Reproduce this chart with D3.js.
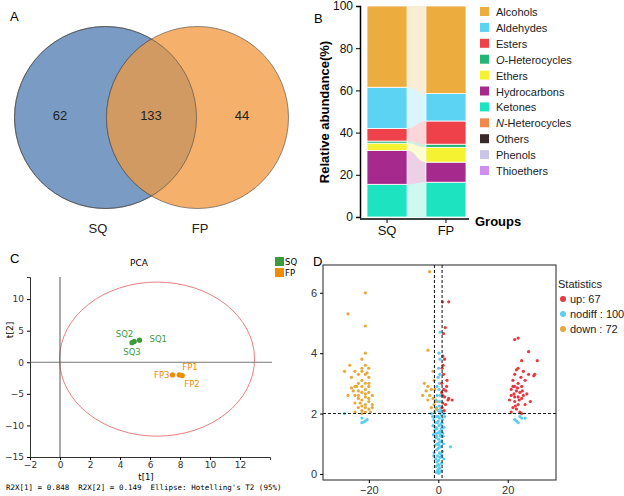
<!DOCTYPE html>
<html><head><meta charset="utf-8">
<script src="https://cdn.jsdelivr.net/npm/d3@7/dist/d3.min.js"></script>
<style>body{margin:0;background:#fff}svg{font-family:Arial,"Liberation Sans",sans-serif}</style>
</head><body><svg id="c" width="624" height="496"></svg>
<script>
// ---- Panel A data
const vennLabels = ["SQ","FP"];
const vennCounts = [62,133,44];
// ---- Panel B data
const classes = ["Alcohols","Aldehydes","Esters","O-Heterocycles","Ethers","Hydrocarbons","Ketones","N-Heterocycles","Others","Phenols","Thioethers"];
const classColors = ["#ecac3e","#5dd3f3","#ef4149","#23b574","#f5f232","#a6298e","#1de3c0","#f08a4b","#3a2a2a","#c9c4e8","#cf8ef0"];
const groups = ["SQ","FP"];
const sqValues = [38.5,19.5,6,1,3.5,16,15.5,0,0,0,0];
const fpValues = [41.5,13,11,1.5,7,9.5,16.5,0,0,0,0];
const stackOrder = ["Ketones","Hydrocarbons","Ethers","O-Heterocycles","Esters","Aldehydes","Alcohols","N-Heterocycles","Others","Phenols","Thioethers"];
const bTicks = [0,20,40,60,80,100];
// ---- Panel C data
const pcaNames = ["SQ1","SQ2","SQ3","FP1","FP2","FP3"];
const pcaT1 = [5.3,4.95,4.8,7.95,8.15,7.5];
const pcaT2 = [3.5,3.3,3.1,-2.0,-2.1,-2.0];
const pcaXTicks = [-2,0,2,4,6,8,10,12];
const pcaYTicks = [-15,-10,-5,0,5,10];
// ---- Panel D data
const upPts = [[1.2,5.7],[3,5.7],[2,4.85],[1.5,4.65],[1.3,3.9],[1.8,3.8],[1.1,3.5],[1.5,3.3],[2.5,3.1],[1,3.0],[1.6,2.8],[2.2,2.75],[1.2,2.6],[1.8,2.55],[3,2.5],[4,2.45],[1.3,2.35],[2.1,2.3],[1.1,2.2],[1.7,2.1],[2.8,2.45],[1.4,3.6],[2.4,2.9],[1.0,2.7],
[22,4.45],[23,4.5],[26,4.05],[28.5,3.75],[24,3.75],[23,3.5],[22.5,3.45],[24.5,3.4],[26,3.3],[27.5,3.25],[21.5,3.1],[23,3.0],[22,2.9],[24,2.9],[21,2.8],[22.5,2.75],[23.5,2.7],[25.5,2.65],[21,2.6],[22,2.55],[23,2.55],[24,2.5],[20.5,2.45],[22,2.4],[26.5,2.4],[23,2.3],[21.5,2.2],[22.5,2.15],[23.5,2.05],[21,2.05],[24,2.0],[22,3.3],[25,3.1],[21.5,2.9],[24.5,2.6],[22.8,2.85],[23.8,3.2],[21.8,2.65],[25,2.3],[22.2,2.25],[23.3,2.45],[24.2,2.75],[27.8,3.3]];
const nodiffPts = [[-27,2.0],[-22,1.85],[-21,1.75],[-22,1.7],[-21.5,1.72],[-20.5,1.8],[22,1.8],[24,1.85],[23,1.7],[22.5,1.75],[25,1.85],[23.5,1.9],
[0.5,4.7],[0.2,4.0],[0.4,3.3],[0.3,3.0],[0.2,2.8],[-0.3,2.6],[0.5,2.4],[-0.5,2.2],[0,2.1],[-2,2.0],[1.5,2.0],[-1,2.05],[0.8,1.95],[-0.6,1.9],[0.3,1.85],[-1.3,1.8],[1.2,1.8],[0,1.75],[-0.8,1.7],[0.7,1.65],[-1.5,1.6],[0.2,1.6],[1.6,1.55],[-0.4,1.5],[0.9,1.5],[-1,1.45],[0.4,1.4],[-0.2,1.35],[1.3,1.35],[-1.4,1.3],[0.6,1.25],[-0.6,1.2],[0.1,1.15],[1.0,1.1],[-1.1,1.1],[0.4,1.05],[-0.3,1.0],[1.5,1.0],[3.5,0.9],[-0.9,0.95],[0.7,0.9],[0,0.85],[-0.5,0.8],[1.2,0.75],[0.3,0.7],[-1.2,0.7],[0.8,0.65],[-0.2,0.6],[0.5,0.55],[-0.7,0.5],[1.6,0.5],[0.1,0.45],[-0.4,0.4],[0.9,0.35],[0.2,0.3],[-0.6,0.25],[0.4,0.2],[0,0.15],[-0.2,0.1],[0.3,0.05],[0.1,0.02],[-0.1,0.3],[0.6,1.3],[-0.8,1.55],[1.1,1.7],[-0.1,1.9],[0.3,2.25],[-0.2,2.4],[0.6,2.6],[0.1,3.5],[0.5,3.8],[-0.5,1.25],[1.4,1.25],[-1.3,0.6],[0.9,0.1],[-0.3,1.7],[0.8,1.4],[-0.9,1.35],[0.2,0.95],[1.0,0.6],[-0.5,0.05],[0.4,2.05],[-1.6,1.9],[1.8,1.9],[0.7,2.15],[-0.7,2.45],[0,3.2],[-0.4,2.9]];
const downPts = [[-26,5.3],[-21,6],[-21,4.9],[-21,4],[-27,3.4],[-25.5,3.6],[-22,3.8],[-21,3.6],[-20,3.5],[-22,3.4],[-23,3.3],[-24,3.4],[-21,3.3],[-20,3.2],[-22,3.1],[-21,3.0],[-23,3.0],[-24,2.9],[-25,2.85],[-22,2.9],[-20,2.9],[-21,2.8],[-23,2.75],[-22,2.7],[-20,2.7],[-19,2.6],[-24,2.6],[-26,2.6],[-21,2.55],[-23,2.5],[-22,2.45],[-20,2.4],[-24,2.35],[-21,2.3],[-22,2.25],[-19,2.2],[-23,2.2],[-20,2.15],[-22,2.1],[-21,2.05],[-23,2.6],[-22,3.5],[-20,3.0],[-25,3.2],[-21,2.2],[-19,2.3],[-22,2.0],[-24,2.05],[-20,2.5],[-21,2.65],[-23.5,2.9],[-20.5,3.35],[-22.5,2.35],[-24.5,2.75],[-19.5,2.05],
[-2.5,6.7],[-3,4.1],[-1.5,3.4],[-1.2,3.1],[-4,3.0],[-3,2.9],[-2,2.8],[-1,2.8],[-4.5,2.6],[-2.5,2.6],[-1.5,2.5],[-3,2.45],[-0.8,2.4],[-1.2,2.3],[-2,2.2],[-0.6,2.15],[-3.5,2.75]];
const dXTicks = [-20,0,20];
const dYTicks = [0,2,4,6];

const svg = d3.select("#c");
const panelLab = (x,y,t)=>svg.append("text").attr("x",x).attr("y",y).attr("font-size",13).text(t);

// ===== A
panelLab(10,21,"A");
const ga = svg.append("g");
const vx = d3.scaleOrdinal().domain(vennLabels).range([105.5,197.5]);
const vcy = 117.5, vr = 91;
ga.append("circle").attr("cx",vx("SQ")).attr("cy",vcy).attr("r",vr).attr("fill","#7a9cc4").attr("stroke","#444").attr("stroke-width",0.6);
ga.append("circle").attr("cx",vx("FP")).attr("cy",vcy).attr("r",vr).attr("fill","#f5b06b").attr("stroke","#444").attr("stroke-width",0.6);
ga.append("clipPath").attr("id","clA").append("circle").attr("cx",vx("SQ")).attr("cy",vcy).attr("r",vr);
ga.append("circle").attr("cx",vx("FP")).attr("cy",vcy).attr("r",vr).attr("clip-path","url(#clA)").attr("fill","#d09a62").attr("stroke","#444").attr("stroke-width",0.6);
ga.append("circle").attr("cx",vx("SQ")).attr("cy",vcy).attr("r",vr).attr("fill","none").attr("stroke","#444").attr("stroke-width",0.6);
[[60,vennCounts[0]],[151,vennCounts[1]],[242,vennCounts[2]]].forEach(([x,t])=>ga.append("text").attr("x",x).attr("y",120).attr("text-anchor","middle").attr("font-size",13).attr("fill","#222").text(t));
vennLabels.forEach((l,i)=>ga.append("text").attr("x",[98,200][i]).attr("y",233).attr("text-anchor","middle").attr("font-size",13).attr("fill","#222").text(l));

// ===== B
panelLab(314,23,"B");
const gb = svg.append("g");
const by = d3.scaleLinear().domain([0,100]).range([217,6]);
const bx = d3.scaleBand().domain(groups).range([367,466]).paddingInner(0.32);
const stackData = groups.map((g,gi)=>{const vals = gi?fpValues:sqValues; const o={}; classes.forEach((c,i)=>o[c]=vals[i]); return o;});
const series = d3.stack().keys(stackOrder)(stackData);
const col = c=>classColors[classes.indexOf(c)];
series.forEach(s=>{
  const a=s[0], b=s[1];
  const x0=bx("SQ")+bx.bandwidth(), x1=bx("FP");
  if(a[1]-a[0]>0||b[1]-b[0]>0){
    const xm=(x0+x1)/2;
    gb.append("path").attr("d",`M${x0},${by(a[1])} C${xm},${by(a[1])} ${xm},${by(b[1])} ${x1},${by(b[1])} L${x1},${by(b[0])} C${xm},${by(b[0])} ${xm},${by(a[0])} ${x0},${by(a[0])}Z`).attr("fill",col(s.key)).attr("opacity",0.22);
  }
  s.forEach((d,i)=>{ if(d[1]-d[0]<=0) return;
    gb.append("rect").attr("x",bx(groups[i])).attr("width",bx.bandwidth()).attr("y",by(d[1])).attr("height",by(d[0])-by(d[1])).attr("fill",col(s.key)).attr("stroke","#fff").attr("stroke-width",0.8);
  });
});
const byAx = gb.append("g").attr("transform","translate(360,0)").call(d3.axisLeft(by).tickValues(bTicks).tickSize(4));
const bxAx = gb.append("g").attr("transform","translate(0,219)").call(d3.axisBottom(bx).tickSize(4));
bxAx.select(".domain").attr("d","M360,0H469");
[byAx,bxAx].forEach(a=>{a.selectAll("text").attr("font-size",12).attr("fill","#111");a.select(".domain").attr("stroke-width",1.5);});
bxAx.selectAll("text").attr("font-size",13);
gb.append("text").attr("x",475).attr("y",226).attr("font-weight","bold").attr("font-size",13).text("Groups");
gb.append("text").attr("transform","translate(329,112) rotate(-90)").attr("text-anchor","middle").attr("font-weight","bold").attr("font-size",13).text("Relative abundance(%)");
classes.forEach((c,i)=>{
  const y=12+i*15.9;
  gb.append("rect").attr("x",480).attr("y",y-5).attr("width",9).attr("height",9).attr("fill",classColors[i]);
  const t=gb.append("text").attr("x",496).attr("y",y+4).attr("font-size",11).attr("fill","#222");
  if(c.includes("-Het")){t.append("tspan").attr("font-style","italic").text(c[0]);t.append("tspan").text(c.slice(1));} else t.text(c);
});

// ===== C
panelLab(10,263,"C");
const gc = svg.append("g");
const cx = d3.scaleLinear().domain([-2,14]).range([30,270]);
const cy = d3.scaleLinear().domain([-15,13.5]).range([457,277]);
gc.append("ellipse").attr("cx",cx(6.47)).attr("cy",cy(0.5)).attr("rx",cx(6.5)-cx(0)).attr("ry",cy(-11.7)-cy(0.5)).attr("fill","none").attr("stroke","#e06060").attr("stroke-width",0.8);
gc.append("line").attr("x1",cx(-2)).attr("x2",272).attr("y1",cy(0)).attr("y2",cy(0)).attr("stroke","#777");
gc.append("line").attr("x1",cx(0)).attr("x2",cx(0)).attr("y1",cy(13.5)).attr("y2",cy(-15)).attr("stroke","#555");
const cxa = gc.append("g").attr("transform",`translate(0,${cy(-15)})`).call(d3.axisBottom(cx).tickValues(pcaXTicks).tickSize(3));
const cya = gc.append("g").attr("transform",`translate(${cx(-2)},0)`).call(d3.axisLeft(cy).tickValues(pcaYTicks).tickSize(3));
[cxa,cya].forEach(a=>{a.selectAll("text").attr("font-size",9).attr("fill","#333").attr("font-family","'DejaVu Sans',sans-serif");a.select(".domain").attr("stroke","#333");});
cxa.selectAll("text").attr("dy","0.6em");
gc.append("text").attr("x",146).attr("y",480).attr("text-anchor","middle").attr("font-size",8.5).attr("font-family","'DejaVu Sans'").text("t[1]");
gc.append("text").attr("transform","translate(13,330) rotate(-90)").attr("text-anchor","middle").attr("font-size",9).attr("font-family","'DejaVu Sans'").text("t[2]");
gc.append("text").attr("x",139,).attr("y",266).attr("text-anchor","middle").attr("font-size",9).attr("font-family","'DejaVu Sans'").text("PCA");
gc.append("text").attr("x",6).attr("y",490).attr("font-size",7.5).attr("font-family","'DejaVu Sans Mono',monospace").attr("xml:space","preserve").text("R2X[1] = 0.848  R2X[2] = 0.149  Ellipse: Hotelling's T2 (95%)");
const pcaOff = {SQ1:[10,2,"start"],SQ2:[-1,-4,"end"],SQ3:[0,12,"middle"],FP1:[3,-5,"start"],FP2:[2,11,"start"],FP3:[-3,3,"end"]};
pcaNames.forEach((n,i)=>{
  const c = n.startsWith("SQ")?"#3d9a3d":"#f08c00";
  gc.append("circle").attr("cx",cx(pcaT1[i])).attr("cy",cy(pcaT2[i])).attr("r",2.6).attr("fill",c);
  const o=pcaOff[n];
  gc.append("text").attr("x",cx(pcaT1[i])+o[0]).attr("y",cy(pcaT2[i])+o[1]).attr("text-anchor",o[2]).attr("font-size",8.5).attr("fill",c).attr("font-family","'DejaVu Sans'").text(n);
});
[["SQ","#3d9a3d"],["FP","#f08c00"]].forEach(([t,c],i)=>{
  gc.append("rect").attr("x",275).attr("y",257+i*11).attr("width",9).attr("height",9).attr("fill",c);
  gc.append("text").attr("x",285).attr("y",265+i*11).attr("font-size",8.5).attr("font-family","'DejaVu Sans'").text(t);
});

// ===== D
panelLab(313,266,"D");
const gd = svg.append("g");
const dx = d3.scaleLinear().domain([-33.2,33.9]).range([323,556]);
const dy = d3.scaleLinear().domain([-0.2,6.92]).range([480,265]);
gd.append("rect").attr("x",323).attr("y",265).attr("width",233).attr("height",215).attr("fill","none").attr("stroke","#222").attr("stroke-width",1);
const dot = (pts,c)=>gd.append("g").selectAll("circle").data(pts).join("circle").attr("cx",d=>dx(d[0])).attr("cy",d=>dy(d[1])).attr("r",1.6).attr("fill",c);
dot(nodiffPts,"#5dcdf0"); dot(downPts,"#e8a93a"); dot(upPts,"#e53a40");
[-1.1,1.1].forEach(v=>gd.append("line").attr("x1",dx(v)).attr("x2",dx(v)).attr("y1",265).attr("y2",480).attr("stroke","#222").attr("stroke-dasharray","3,2").attr("stroke-width",1.1));
gd.append("line").attr("x1",323).attr("x2",556).attr("y1",dy(2)).attr("y2",dy(2)).attr("stroke","#222").attr("stroke-dasharray","3,2").attr("stroke-width",1.1);
const dxa = gd.append("g").attr("transform","translate(0,480)").call(d3.axisBottom(dx).tickValues(dXTicks).tickSize(3));
const dya = gd.append("g").attr("transform","translate(323,0)").call(d3.axisLeft(dy).tickValues(dYTicks).tickSize(3));
[dxa,dya].forEach(a=>{a.select(".domain").remove();a.selectAll("text").attr("font-size",11).attr("fill","#333");});
gd.append("text").attr("x",558).attr("y",288).attr("font-size",11).attr("fill","#222").text("Statistics");
[["up: 67","#e53a40"],["nodiff : 100","#5dcdf0"],["down : 72","#e8a93a"]].forEach(([t,c],i)=>{
  gd.append("circle").attr("cx",563).attr("cy",299+i*15).attr("r",3).attr("fill",c);
  gd.append("text").attr("x",570).attr("y",303+i*15).attr("font-size",11).attr("fill","#222").text(t);
});
</script></body></html>
